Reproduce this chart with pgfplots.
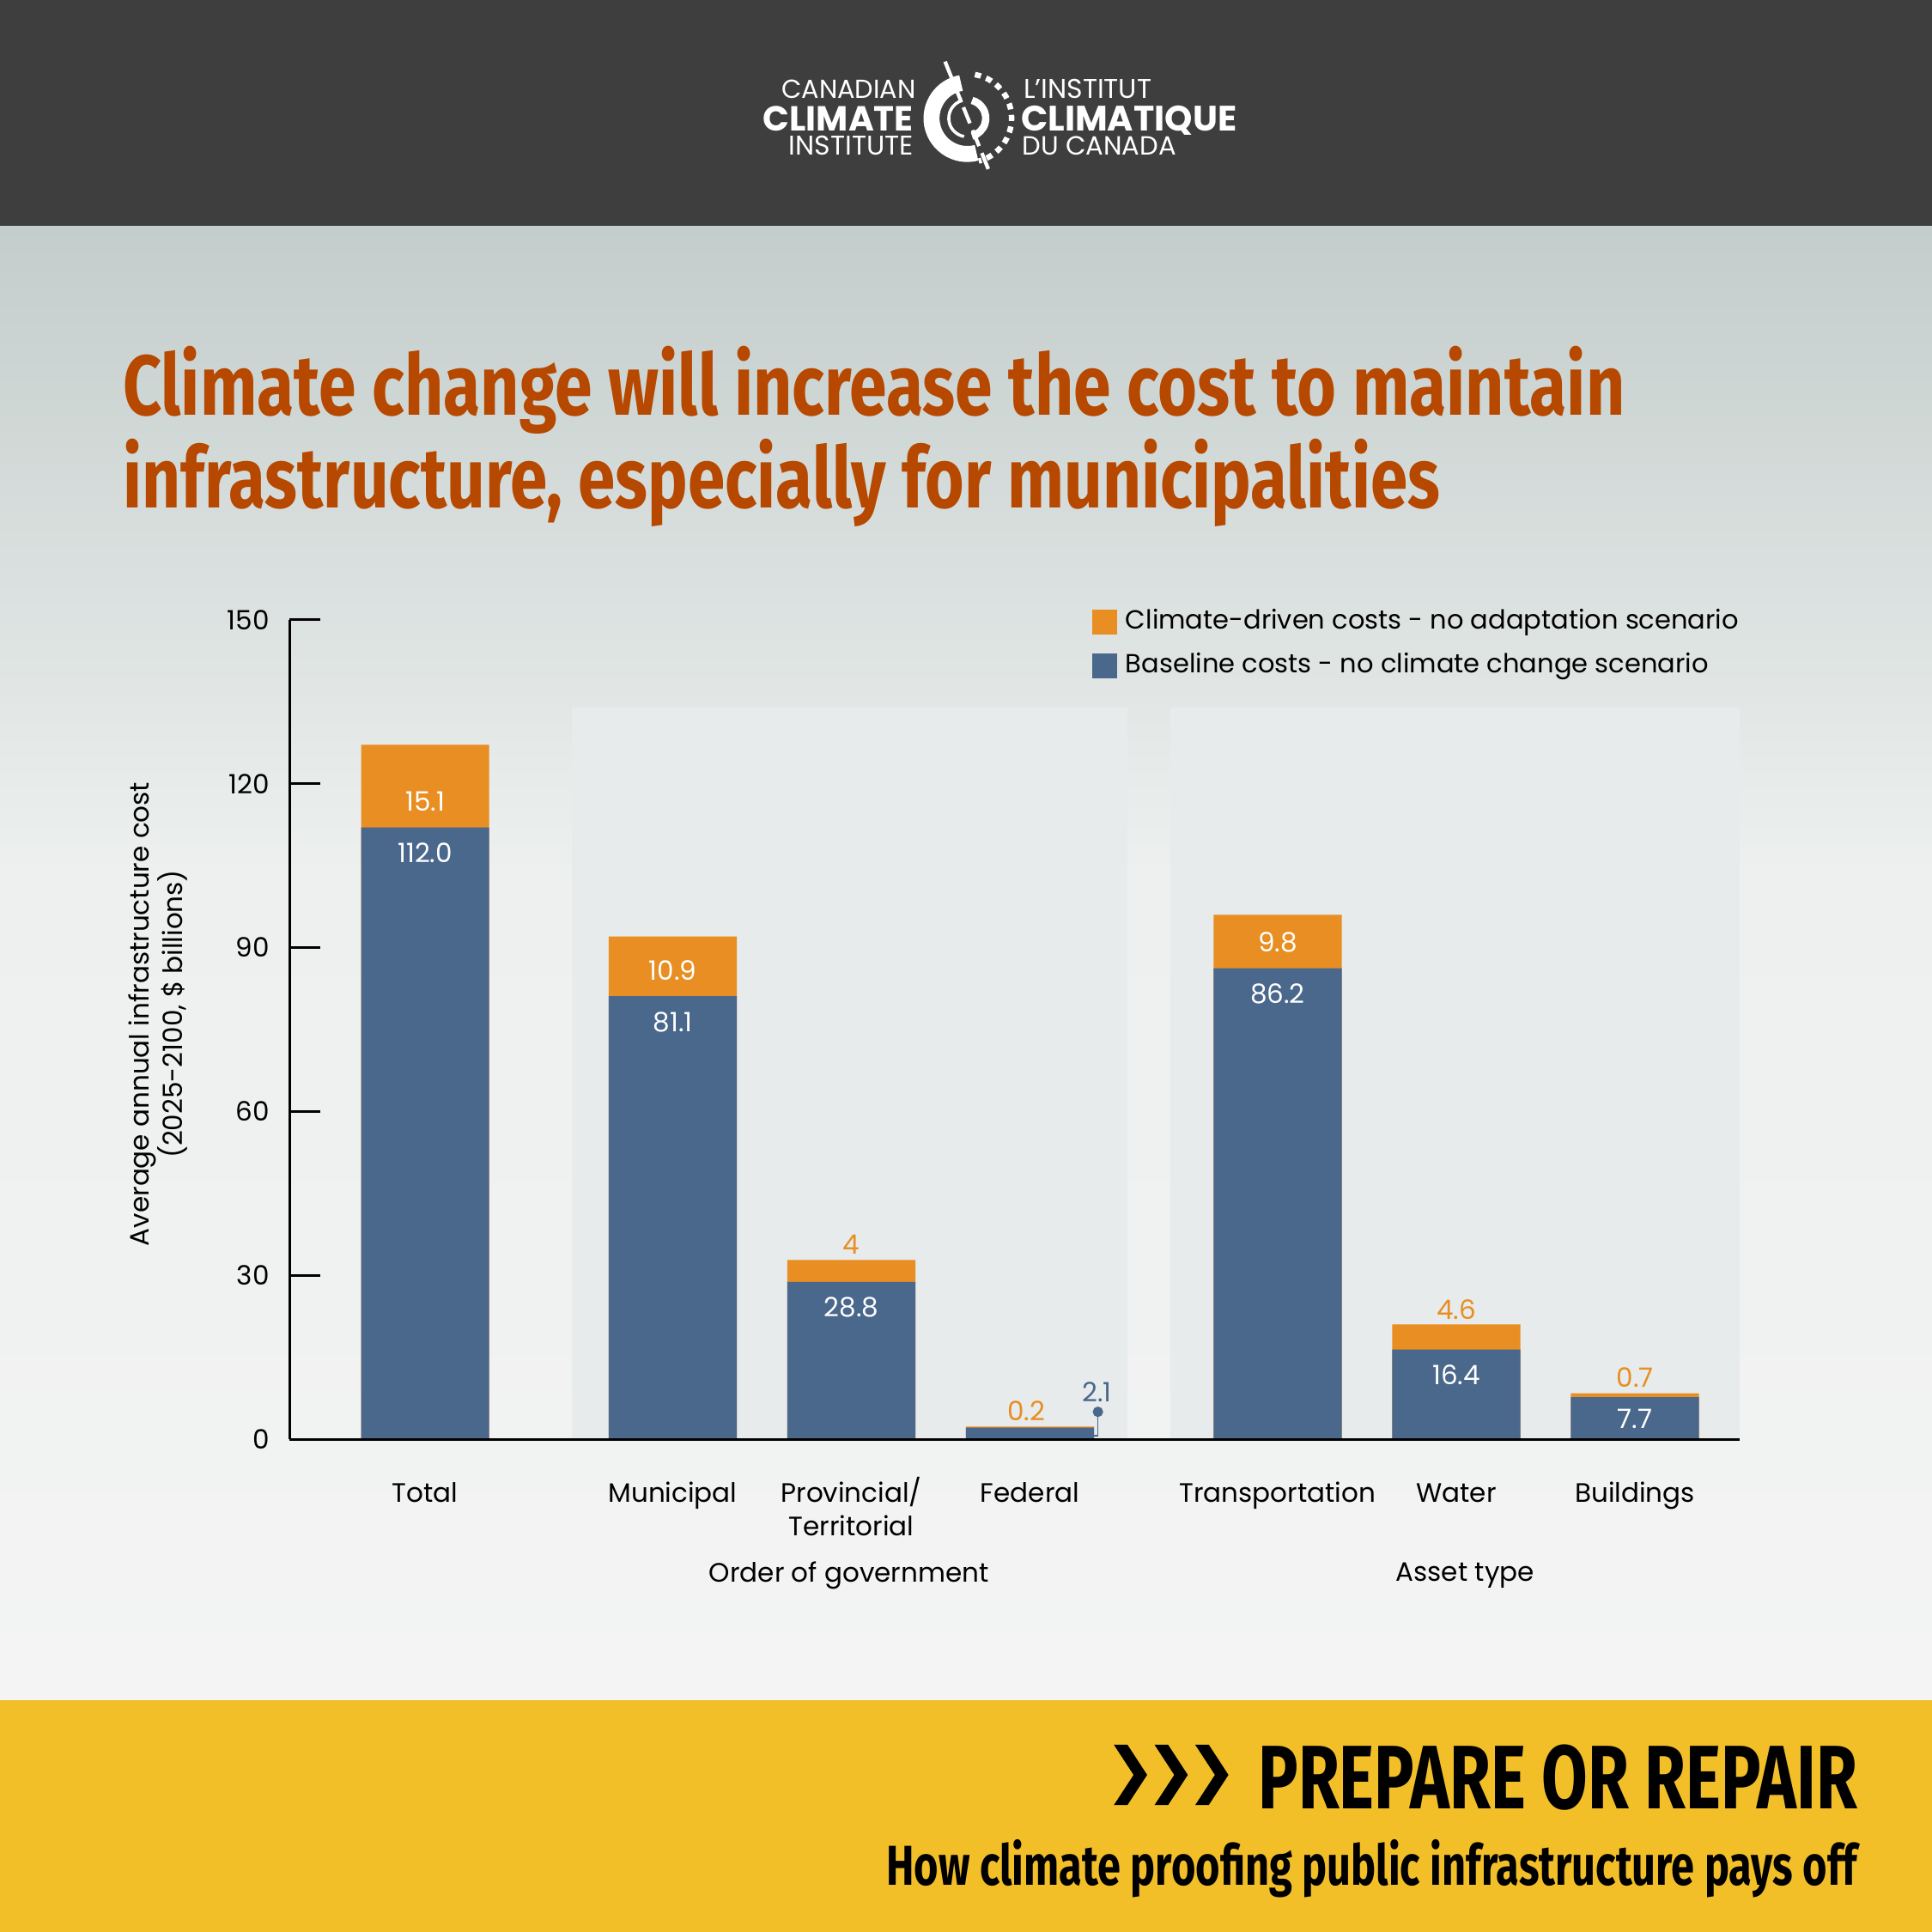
\documentclass[border=0pt]{standalone}
\usepackage{fontspec}
\setmainfont{Poppins}
\newfontfamily\titlefont{Fira Sans}
\usepackage{graphicx}
\usepackage{pgfplots}
\usepackage{pgfplotstable}
\pgfplotsset{compat=1.18}

\definecolor{hdr}{HTML}{3E3E3E}
\definecolor{bgtop}{HTML}{C3CDCB}
\definecolor{bgmid}{HTML}{EDF0EF}
\definecolor{bgbot}{HTML}{F3F4F3}
\definecolor{panel}{HTML}{E7EBEC}
\definecolor{blueb}{HTML}{4A678C}
\definecolor{orangeb}{HTML}{E88E22}
\definecolor{titlec}{HTML}{B64800}
\definecolor{yel}{HTML}{F2BF29}

\newcommand\lbl{\fontsize{6.15}{7.7}\selectfont}

% x positions: groups Total | order of government | asset type
\pgfplotstableread{
x      base   clim
0      112.0  15.1
1.386  81.1   10.9
2.386  28.8   4
3.386  2.1    0.2
4.772  86.2   9.8
5.772  16.4   4.6
6.772  7.7    0.7
}\costs

\begin{document}
\begin{tikzpicture}[x=1cm,y=1cm]
\useasboundingbox (0,0) rectangle (15.68,15.68);
% background bands
\fill[bgbot] (0,0) rectangle (15.68,15.68);
\shade[top color=bgtop, bottom color=bgmid] (0,8.6) rectangle (15.68,13.86);
\shade[top color=bgmid, bottom color=bgbot] (0,1.88) rectangle (15.68,8.61);
\fill[hdr] (0,13.85) rectangle (15.68,15.68);
\fill[yel] (0,0) rectangle (15.68,1.88);

% logo
\begin{scope}[white]
\node[anchor=base east, inner sep=0] at (7.44,14.88) {\resizebox{1.09cm}{!}{CANADIAN}};
\node[anchor=base east, inner sep=0] at (7.42,14.62) {\resizebox{1.22cm}{!}{\bfseries CLIMATE}};
\node[anchor=base east, inner sep=0] at (7.42,14.42) {\resizebox{1.01cm}{!}{INSTITUTE}};
\node[anchor=base west, inner sep=0] at (8.30,14.88) {\resizebox{1.04cm}{!}{L’INSTITUT}};
\node[anchor=base west, inner sep=0] at (8.28,14.62) {\resizebox{1.75cm}{!}{\bfseries CLIMATIQUE}};
\node[anchor=base west, inner sep=0] at (8.29,14.42) {\resizebox{1.25cm}{!}{DU CANADA}};
\draw[line width=1.3mm] (7.85,14.72) ++(100:0.29) arc (100:285:0.29);
\draw[line width=0.25mm] (7.85,14.72) ++(105:0.15) arc (105:260:0.15);
\draw[line width=0.6mm] (7.85,14.72) ++(75:0.15) arc (75:-75:0.15);
\draw[line width=0.45mm, dash pattern=on 0.5mm off 0.45mm] (7.85,14.72) ++(80:0.36) arc (80:-75:0.36);
\draw[line width=0.3mm, dash pattern=on 1.4mm off 0.6mm] (7.67,15.18) -- (8.04,14.26);
\end{scope}

% title
\node[anchor=base west, inner sep=0, text=titlec] at (0.99,12.31)
  {\resizebox{12.19cm}{0.56cm}{\titlefont\bfseries Climate change will increase the cost to maintain}};
\node[anchor=base west, inner sep=0, text=titlec] at (0.99,11.56)
  {\resizebox{10.69cm}{0.56cm}{\titlefont\bfseries infrastructure, especially for municipalities}};

\begin{axis}[
  at={(2.35cm,4.0cm)}, anchor=south west,
  scale only axis, width=11.77cm, height=6.65cm,
  axis on top,
  ybar, bar width=0.717, bar shift=0pt,
  xmin=-0.759, xmax=7.359, ymin=0, ymax=150,
  axis x line*=bottom, axis y line*=left,
  axis line style={black, line width=0.6pt},
  xtick={0,1.386,2.386,3.386,4.772,5.772,6.772},
  xticklabels={Total,Municipal,{\begin{tabular}[t]{@{}c@{}}Provincial/\\Territorial\end{tabular}},Federal,Transportation,Water,Buildings},
  xtick style={draw=none},
  xticklabel style={font=\lbl, anchor=base, yshift=-5.1mm},
  ytick={0,30,...,150},
  ytick style={black, line width=0.6pt},
  tick align=inside, major tick length=2.5mm,
  yticklabel style={font=\lbl, xshift=-0.4mm},
  /pgf/number format/assume math mode=true,
  clip=false,
  legend cell align=left,
  legend style={at={(0.553,1.025)}, anchor=north west, draw=none, fill=none,
    font=\fontsize{6.05}{7.7}\selectfont, row sep=0mm, inner sep=0pt},
  legend image code/.code={\fill[#1,draw=none] (0,-1mm) rectangle (2mm,1mm);},
]
% shaded group panels
\fill[panel] (axis cs:0.821,0) rectangle (axis cs:3.931,134);
\fill[panel] (axis cs:4.172,0) rectangle (axis cs:7.359,134);

\addplot[fill=orangeb, draw=none] table[x=x, y expr=\thisrow{base}+\thisrow{clim}] {\costs};
\addplot[fill=blueb, draw=none] table[x=x, y=base] {\costs};
\legend{Climate-driven costs - no adaptation scenario, Baseline costs - no climate change scenario}

% federal call-out
\addplot[sharp plot, blueb, line width=0.3pt, forget plot] coordinates {(3.744,0.6) (3.766,0.6) (3.766,5.0)};
\addplot[sharp plot, only marks, mark=*, mark size=0.35mm, blueb, forget plot] coordinates {(3.766,5.0)};

% value labels
\begin{scope}[font=\lbl]
\node[white] at (axis cs:0,116.7) {15.1};
\node[white] at (axis cs:0,107.3) {112.0};
\node[white] at (axis cs:1.386,85.8) {10.9};
\node[white] at (axis cs:1.386,76.4) {81.1};
\node[orangeb] at (axis cs:2.386,35.7) {4};
\node[white] at (axis cs:2.386,24.1) {28.8};
\node[orangeb] at (axis cs:3.366,5.1) {0.2};
\node[blueb] at (axis cs:3.76,8.6) {2.1};
\node[white] at (axis cs:4.772,90.9) {9.8};
\node[white] at (axis cs:4.772,81.5) {86.2};
\node[orangeb] at (axis cs:5.772,23.7) {4.6};
\node[white] at (axis cs:5.772,11.7) {16.4};
\node[orangeb] at (axis cs:6.772,11.3) {0.7};
\node[white] at (axis cs:6.772,3.7) {7.7};
\node at (axis cs:2.372,-25) {Order of government};
\node at (axis cs:5.821,-25) {Asset type};
\end{scope}
\end{axis}

\node[rotate=90, align=center, font=\lbl] at (1.28,7.45)
  {Average annual infrastructure cost\\(2025-2100, \$ billions)};

% footer
\foreach \cx in {9.04,9.37,9.70}{
  \fill[black] (\cx,1.52) -- (\cx+0.11,1.52) -- (\cx+0.27,1.275) -- (\cx+0.11,1.03)
    -- (\cx,1.03) -- (\cx+0.16,1.275) -- cycle;
}
\node[anchor=base east, inner sep=0] at (15.08,1.00)
  {\resizebox{4.86cm}{0.52cm}{\titlefont\bfseries PREPARE OR REPAIR}};
\node[anchor=base east, inner sep=0] at (15.08,0.38)
  {\resizebox{7.88cm}{0.37cm}{\titlefont\bfseries How climate proofing public infrastructure pays off}};
\end{tikzpicture}
\end{document}
